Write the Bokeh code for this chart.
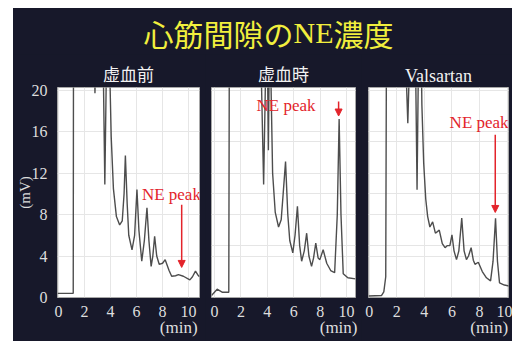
from bokeh.plotting import figure
from bokeh.layouts import row, column, Spacer
from bokeh.models import Range1d, FixedTicker, Arrow, NormalHead, Grid, LinearAxis
from bokeh.core.properties import value
from bokeh.embed import file_html
from bokeh.resources import INLINE

# ---------------- data ----------------
main_title_parts = ["心筋間隙の", "NE", "濃度"]
panel_titles = ["虚血前", "虚血時", "Valsartan"]
y_ticks = [0, 4, 8, 12, 16, 20]
x_ticks = [0, 2, 4, 6, 8, 10]
x_unit = "(min)"
y_unit = "(mV)"
ne_label = "NE peak"

# chromatogram before ischemia (time min, signal mV); 24 = off scale
t_pre = [-0.08, 0.6, 1.13, 1.15, 2.75, 2.80, 2.88, 3.42, 3.56, 3.70, 3.90, 4.05, 4.22,
         4.45, 4.70, 4.90, 5.04, 5.14, 5.28, 5.40, 5.65, 5.85, 6.03, 6.18, 6.40, 6.60,
         6.80, 6.95, 7.12, 7.25, 7.39, 7.55, 7.74, 8.00, 8.20, 8.50, 8.70, 9.00, 9.22,
         9.60, 10.10, 10.30, 10.53, 10.70, 10.84]
mv_pre = [0.4, 0.4, 0.4, 24, 24, 19.7, 24, 24, 10.9, 24, 24, 15.5, 10.5,
          7.8, 7.0, 7.4, 10.0, 13.7, 9.0, 6.0, 4.6, 6.0, 10.4, 6.5, 3.5, 5.5,
          8.65, 5.5, 3.0, 4.0, 5.9, 4.0, 3.2, 3.3, 3.65, 2.6, 2.05, 2.1, 2.2,
          2.05, 1.7, 2.0, 2.55, 2.2, 2.0]

# chromatogram during ischemia
t_isc = [-0.23, 0.20, 0.60, 1.08, 1.12, 3.50, 3.72, 3.90, 4.00, 4.08, 4.15, 4.23, 4.40,
         4.60, 4.85, 5.05, 5.20, 5.38, 5.55, 5.70, 5.93, 6.10, 6.28, 6.45, 6.60, 6.80,
         6.98, 7.15, 7.35, 7.50, 7.67, 7.85, 7.98, 8.23, 8.50, 8.80, 9.10, 9.30, 9.44,
         9.58, 9.75, 10.10, 10.68]
mv_isc = [0.2, 0.8, 0.5, 0.5, 24, 24, 10.9, 24, 24, 14.2, 24, 24, 12.0,
          8.2, 6.8, 7.5, 10.0, 13.1, 8.0, 5.5, 4.3, 6.0, 8.8, 5.0, 3.5, 4.5,
          6.2, 4.0, 3.0, 3.8, 5.25, 3.8, 3.65, 4.6, 3.3, 2.6, 2.4, 8.0, 17.2,
          8.0, 2.3, 1.9, 1.8]

# chromatogram with valsartan
t_val = [-0.05, 0.90, 1.06, 1.20, 1.25, 2.62, 2.80, 2.95, 3.35, 3.47, 3.58, 3.77, 3.82,
         3.95, 4.10, 4.24, 4.40, 4.60, 4.80, 5.08, 5.30, 5.50, 5.65, 5.85, 6.00, 6.15,
         6.33, 6.50, 6.71, 6.88, 7.05, 7.20, 7.39, 7.55, 7.67, 7.91, 8.20, 8.50, 8.80,
         8.98, 9.16, 9.30, 9.45, 9.80, 10.20]
mv_val = [0.15, 0.2, 0.55, 2.0, 24, 24, 16.8, 24, 24, 10.4, 24, 24, 18.6,
          13.0, 9.5, 7.8, 6.8, 7.3, 6.2, 6.5, 5.2, 4.8, 5.0, 5.0, 6.05, 4.5,
          3.65, 4.5, 7.65, 4.5, 3.65, 4.0, 4.8, 3.6, 3.2, 3.4, 2.5, 1.9, 1.6,
          3.5, 7.65, 3.5, 1.4, 1.2, 1.1]

# NE peak annotations (arrow time, arrow top, arrow tip, label left, label middle)
ne_time = [9.47, 9.40, 9.14]
ne_arrow_top = [8.95, 18.9, 15.7]
ne_arrow_tip = [2.9, 17.5, 8.2]
ne_label_x = [6.41, 3.18, 5.83]
ne_label_y = [9.9, 18.5, 16.9]
unit_label_x = [9.24, 9.4, 8.7]

series_t = [t_pre, t_isc, t_val]
series_v = [mv_pre, mv_isc, mv_val]

# ---------------- style / layout ----------------
BG = "#17182a"
TXT = "#dedede"
RED = "#e3242b"
SERIF = "Liberation Serif"
CJK = "Noto Sans CJK JP"

x_ranges = [(-0.08, 10.84), (-0.23, 10.68), (-0.05, 10.1)]
fig_w = [192, 156, 151]
border_l = [43, 6, 7]
border_r = [6, 6, 4]
TOP_W = sum(fig_w)
TOP_H = 46
PANEL_H = 287

# top title strip
top = figure(width=TOP_W, height=TOP_H, x_range=Range1d(0, TOP_W), y_range=Range1d(0, TOP_H),
             x_axis_type=None, y_axis_type=None, output_backend="svg",
             toolbar_location=None, min_border=0, title=None)
top.background_fill_color = BG
top.border_fill_color = BG
top.outline_line_color = None
top.grid.visible = False
for xx, part, font in zip([130, 280, 320], main_title_parts, [CJK, SERIF, CJK]):
    top.text(x=[xx], y=[TOP_H - 24], text=[part], text_font=value(font),
             text_font_size="30px", text_color="#f1ef3d", text_baseline="middle")

panels = []
for i in range(3):
    p = figure(width=fig_w[i], height=PANEL_H,
               min_border_left=border_l[i], min_border_right=border_r[i],
               min_border_top=33, min_border_bottom=44,
               x_range=Range1d(*x_ranges[i]), y_range=Range1d(0, 20.25),
               y_axis_location="left" if i == 0 else None,
               output_backend="svg", toolbar_location=None, title=panel_titles[i])
    p.background_fill_color = "white"
    p.border_fill_color = BG
    p.outline_line_color = "#a8a8a8"
    p.title.align = "center"
    p.title.text_color = "#f2f2f2"
    p.title.text_font = SERIF if i == 2 else CJK
    p.title.text_font_size = "18px" if i == 2 else "17px"
    p.title.text_font_style = "normal"
    p.title.standoff = 4

    p.xaxis.ticker = FixedTicker(ticks=x_ticks)
    p.xaxis.axis_line_color = None
    p.xaxis.major_tick_line_color = None
    p.xaxis.minor_tick_line_color = None
    p.xaxis.major_label_text_font = SERIF
    p.xaxis.major_label_text_font_size = "16px"
    p.xaxis.major_label_text_color = TXT
    p.xaxis.major_label_standoff = 2
    p.xgrid.grid_line_color = "#e6e6e6"

    unit_axis = LinearAxis(ticker=FixedTicker(ticks=[unit_label_x[i]]),
                           major_label_overrides={unit_label_x[i]: x_unit},
                           axis_line_color=None, major_tick_line_color=None,
                           minor_tick_line_color=None, major_label_standoff=-8,
                           major_label_text_font=SERIF, major_label_text_font_size="17px",
                           major_label_text_color=TXT)
    p.add_layout(unit_axis, "below")

    if i == 0:
        p.yaxis.ticker = FixedTicker(ticks=y_ticks)
        p.yaxis.axis_line_color = None
        p.yaxis.major_tick_line_color = None
        p.yaxis.minor_tick_line_color = None
        p.yaxis.major_label_text_font = SERIF
        p.yaxis.major_label_text_font_size = "16px"
        p.yaxis.major_label_text_color = TXT
        p.yaxis.major_label_standoff = 4
        p.yaxis.axis_label = y_unit
        p.yaxis.axis_label_text_font = SERIF
        p.yaxis.axis_label_text_font_size = "15px"
        p.yaxis.axis_label_text_font_style = "normal"
        p.yaxis.axis_label_text_color = TXT
        p.yaxis.axis_label_standoff = -4
        p.ygrid.grid_line_color = "#e6e6e6"
    else:
        p.add_layout(Grid(dimension=1, ticker=FixedTicker(ticks=y_ticks),
                          grid_line_color="#e6e6e6"))

    p.line(series_t[i], series_v[i], line_color="#4d4d4d", line_width=1.4)

    p.text(x=[ne_label_x[i]], y=[ne_label_y[i]], text=[ne_label], text_font=value(SERIF),
           text_font_size="17px", text_color=RED, text_baseline="middle", text_align="left")
    p.add_layout(Arrow(end=NormalHead(size=7, fill_color=RED, line_color=RED),
                       x_start=ne_time[i], y_start=ne_arrow_top[i],
                       x_end=ne_time[i], y_end=ne_arrow_tip[i],
                       line_color=RED, line_width=1.5))
    panels.append(p)

dark = {"background-color": BG}
content = column(top, row(*panels, styles=dark), styles=dark)
layout = column(Spacer(height=8), row(Spacer(width=13), content))

open("out.html", "w").write(file_html(layout, INLINE))
